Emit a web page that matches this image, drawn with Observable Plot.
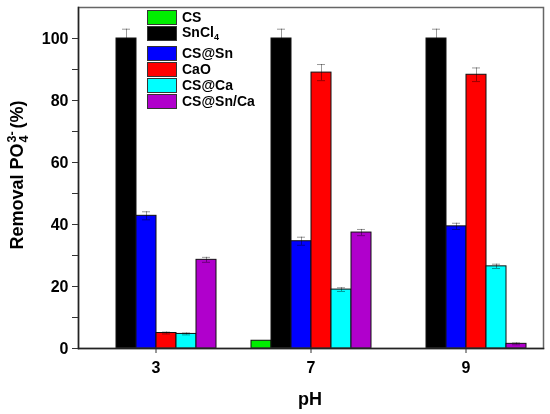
<!DOCTYPE html>
<html><head><meta charset="utf-8">
<script src="https://cdn.jsdelivr.net/npm/d3@7"></script>
<script src="https://cdn.jsdelivr.net/npm/@observablehq/plot@0.6"></script>
<style>
body{margin:0;background:#fff;font-family:"Liberation Sans",Arial,sans-serif;}
#wrap{position:relative;width:550px;height:414px;overflow:hidden;}
#legend{position:absolute;left:147px;top:9px;font-weight:bold;font-size:14px;color:#000;}
.row{display:flex;align-items:center;height:16px;}
.sw{width:28px;height:13px;border:1px solid #333;margin-right:5px;}
#ylab{position:absolute;left:18px;top:175px;transform:translate(-50%,-50%) rotate(-90deg);white-space:nowrap;font-weight:bold;font-size:18px;}
#ylab .st{display:inline-block;vertical-align:-5px;font-size:12.5px;line-height:12px;text-align:left;margin:0 3px 0 1px;}
#xlab{position:absolute;left:310px;top:399px;transform:translate(-50%,-50%);font-weight:bold;font-size:18px;}
</style></head><body><div id="wrap"></div>
<script>
const pHs = [3, 7, 9];
const series = ["CS", "SnCl4", "CS@Sn", "CaO", "CS@Ca", "CS@Sn/Ca"];
const colors = ["#00ee00", "#000000", "#0000ff", "#ff0000", "#00ffff", "#b000cc"];
// values per series at pH 3, 7, 9
const csVals      = [0, 2.5, 0];
const sncl4Vals   = [100, 100, 100];
const csSnVals    = [42.8, 34.6, 39.4];
const caoVals     = [5.0, 89.0, 88.3];
const csCaVals    = [4.7, 19.0, 26.5];
const csSnCaVals  = [28.6, 37.4, 1.5];
// error bars
const csErr     = [0, 0, 0];
const sncl4Err  = [3, 3, 3];
const csSnErr   = [1.3, 1.3, 1.0];
const caoErr    = [0.3, 2.6, 2.2];
const csCaErr   = [0.3, 0.6, 0.7];
const csSnCaErr = [0.8, 1.0, 0.3];
const yTicks = [0, 20, 40, 60, 80, 100];
const yMinor = [10, 30, 50, 70, 90];

const allVals = [csVals, sncl4Vals, csSnVals, caoVals, csCaVals, csSnCaVals];
const allErr = [csErr, sncl4Err, csSnErr, caoErr, csCaErr, csSnCaErr];
const data = [];
series.forEach((s, i) => pHs.forEach((p, j) => data.push({pH: p, series: s, value: allVals[i][j], err: allErr[i][j]})));
const bars = data.filter(d => d.value > 0);
const errs = data.filter(d => d.err > 0);

const chart = Plot.plot({
  width: 550, height: 414,
  marginLeft: 77, marginRight: 7, marginTop: 7, marginBottom: 66,
  style: {fontFamily: "Liberation Sans, Arial, sans-serif", color: "#000", background: "transparent"},
  fx: {domain: pHs, padding: 0, label: null},
  x: {domain: series, paddingInner: 0, paddingOuter: 0.75, axis: null},
  y: {domain: [0, 110], axis: null},
  color: {domain: series, range: colors},
  marks: [
    Plot.barY(bars, {fx: "pH", x: "series", y: "value", fill: "series", stroke: "#111", strokeWidth: 1}),
    Plot.ruleX(errs, {fx: "pH", x: "series", y1: d => d.value - d.err, y2: d => d.value + d.err, stroke: "#999", strokeWidth: 1, mixBlendMode: "multiply"}),
    Plot.tickY(errs, {fx: "pH", x: "series", y: d => d.value + d.err, stroke: "#999", insetLeft: 6, insetRight: 6, mixBlendMode: "multiply"}),
    Plot.tickY(errs, {fx: "pH", x: "series", y: d => d.value - d.err, stroke: "#999", insetLeft: 6, insetRight: 6, mixBlendMode: "multiply"}),
    Plot.axisY({ticks: yTicks, tickSize: 6, tickPadding: 4, fontSize: 16, fontWeight: "bold", label: null, stroke: "#333"}),
    Plot.axisY({ticks: yMinor, tickSize: 6, tickFormat: () => "", label: null, stroke: "#333"}),
    Plot.axisFx({anchor: "bottom", tickSize: 5, tickPadding: 8, fontSize: 16, fontWeight: "bold", label: null, stroke: "#333"}),
    Plot.frame({facet: "super", stroke: "#666", strokeWidth: 1.5}),
    Plot.frame({facet: "super", anchor: "left", stroke: "#222", strokeWidth: 1.5}),
    Plot.frame({facet: "super", anchor: "bottom", stroke: "#222", strokeWidth: 1.5})
  ]
});
const wrap = document.getElementById("wrap");
wrap.appendChild(chart);

const legend = document.createElement("div");
legend.id = "legend";
series.forEach((s, i) => {
  const row = document.createElement("div");
  row.className = "row";
  if (i === 2) row.style.marginTop = "4px";
  const sw = document.createElement("div");
  sw.className = "sw";
  sw.style.background = colors[i];
  const lab = document.createElement("span");
  if (s === "SnCl4") lab.innerHTML = "SnCl<sub style='font-size:9px;vertical-align:-3px'>4</sub>";
  else lab.textContent = s;
  row.appendChild(sw); row.appendChild(lab);
  legend.appendChild(row);
});
wrap.appendChild(legend);

const ylab = document.createElement("div");
ylab.id = "ylab";
ylab.innerHTML = "Removal PO<span class='st'>3-<br>4</span>(%)";
wrap.appendChild(ylab);
const xlab = document.createElement("div");
xlab.id = "xlab";
xlab.textContent = "pH";
wrap.appendChild(xlab);
</script></body></html>
